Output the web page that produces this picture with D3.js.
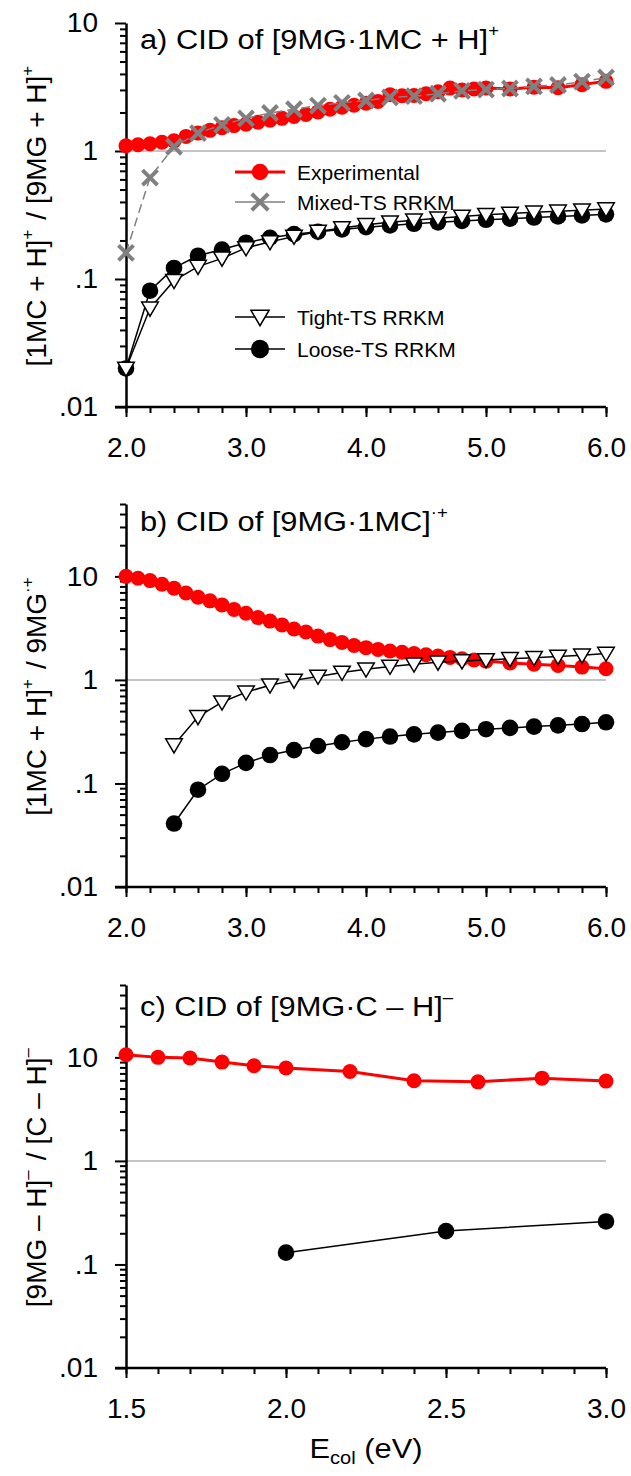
<!DOCTYPE html>
<html>
<head>
<meta charset="utf-8">
<script src="https://cdn.jsdelivr.net/npm/d3@7"></script>
<style>
  body { margin: 0; background: #fff; }
  text { font-family: "Liberation Sans", Arial, sans-serif; fill: #000; }
</style>
</head>
<body>
<script>
// ---- data ----
// panel a: CID of [9MG·1MC + H]+
const expEnergyA = [2.0, 2.1, 2.2, 2.3, 2.4, 2.5, 2.6, 2.7, 2.8, 2.9, 3.0, 3.1, 3.2, 3.3, 3.4, 3.5, 3.6, 3.7, 3.8, 3.9,
  4.0, 4.1, 4.2, 4.3, 4.4, 4.5, 4.6, 4.7, 4.8, 4.9, 5.0, 5.2, 5.4, 5.6, 5.8, 6.0];
const expRatioA = [1.10, 1.12, 1.14, 1.17, 1.20, 1.30, 1.38, 1.45, 1.52, 1.58, 1.62, 1.68, 1.74, 1.80, 1.86, 1.93, 2.02, 2.12, 2.20, 2.28,
  2.36, 2.44, 2.75, 2.70, 2.72, 2.80, 2.90, 3.10, 3.00, 3.05, 3.10, 3.05, 3.15, 3.12, 3.30, 3.50];
const modelEnergyA = [2.0, 2.2, 2.4, 2.6, 2.8, 3.0, 3.2, 3.4, 3.6, 3.8, 4.0, 4.2, 4.4, 4.6, 4.8, 5.0, 5.2, 5.4, 5.6, 5.8, 6.0];
const mixedA = [0.16, 0.62, 1.08, 1.38, 1.60, 1.80, 1.98, 2.12, 2.26, 2.38, 2.48, 2.62, 2.68, 2.80, 2.95, 3.02, 3.08, 3.20, 3.28, 3.48, 3.75];
const tightA = [0.020, 0.059, 0.097, 0.125, 0.145, 0.175, 0.195, 0.215, 0.235, 0.250, 0.265, 0.278, 0.288, 0.298, 0.308, 0.318, 0.325, 0.332, 0.338, 0.345, 0.352];
const looseA = [0.020, 0.081, 0.122, 0.152, 0.170, 0.192, 0.210, 0.224, 0.234, 0.244, 0.254, 0.262, 0.270, 0.277, 0.284, 0.290, 0.296, 0.302, 0.308, 0.314, 0.320];

// panel b: CID of [9MG·1MC]·+
const expEnergyB = expEnergyA;
const expRatioB = [10.0, 9.6, 9.1, 8.4, 7.7, 6.9, 6.3, 5.8, 5.3, 4.8, 4.4, 4.0, 3.7, 3.4, 3.1, 2.9, 2.65, 2.45, 2.3, 2.15,
  2.05, 1.97, 1.90, 1.85, 1.80, 1.75, 1.70, 1.65, 1.60, 1.56, 1.52, 1.46, 1.42, 1.38, 1.33, 1.28];
const modelEnergyB = [2.4, 2.6, 2.8, 3.0, 3.2, 3.4, 3.6, 3.8, 4.0, 4.2, 4.4, 4.6, 4.8, 5.0, 5.2, 5.4, 5.6, 5.8, 6.0];
const tightB = [0.235, 0.44, 0.61, 0.76, 0.89, 0.99, 1.08, 1.18, 1.27, 1.35, 1.42, 1.48, 1.52, 1.56, 1.60, 1.64, 1.68, 1.73, 1.80];
const looseB = [0.041, 0.087, 0.124, 0.158, 0.188, 0.210, 0.230, 0.250, 0.268, 0.284, 0.298, 0.310, 0.322, 0.334, 0.344, 0.354, 0.364, 0.375, 0.390];

// panel c: CID of [9MG·C – H]–
const expEnergyC = [1.5, 1.6, 1.7, 1.8, 1.9, 2.0, 2.2, 2.4, 2.6, 2.8, 3.0];
const expRatioC = [10.6, 10.0, 9.85, 9.0, 8.3, 7.9, 7.3, 5.95, 5.8, 6.3, 5.9];
const modelEnergyC = [2.0, 2.5, 3.0];
const looseC = [0.13, 0.21, 0.26];

// tick labels
const yTickValues = [0.01, 0.1, 1, 10];
const yTickLabels = [".01", ".1", "1", "10"];
const xMajorAB = [2, 3, 4, 5, 6];
const xMajorC = [1.5, 2.0, 2.5, 3.0];

// ---- layout ----
const width = 631, height = 1476;
const x0 = 126, x1 = 606;
const font = 28;
const stretch = 1.1; // titles in the original are set a little wide

const svg = d3.select("body").append("svg")
  .attr("width", width)
  .attr("height", height);

const panels = [
  {
    top: 23, bottom: 407, ymax: 10, xdom: [2, 6], xMajor: xMajorAB, xStep: 0.2, titleY: 49,
    title: [["a) CID of [9MG\u00b71MC + H]", false], ["+", true]],
    ylabel: [["[1MC + H]", false], ["+", true], [" / [9MG + H]", false], ["+", true]],
    series: [
      { x: expEnergyA, y: expRatioA, type: "exp" },
      { x: modelEnergyA, y: looseA, type: "loose" },
      { x: modelEnergyA, y: tightA, type: "tight" },
      { x: modelEnergyA, y: mixedA, type: "mixed" }
    ],
    xlabel: false, legend: true
  },
  {
    top: 504, bottom: 887, ymax: 50, xdom: [2, 6], xMajor: xMajorAB, xStep: 0.2, titleY: 531,
    title: [["b) CID of [9MG\u00b71MC]", false], ["\u00b7+", true]],
    ylabel: [["[1MC + H]", false], ["+", true], [" / 9MG", false], ["\u00b7+", true]],
    series: [
      { x: expEnergyB, y: expRatioB, type: "exp" },
      { x: modelEnergyB, y: looseB, type: "loose" },
      { x: modelEnergyB, y: tightB, type: "tight" }
    ],
    xlabel: false, legend: false
  },
  {
    top: 985, bottom: 1368, ymax: 50, xdom: [1.5, 3], xMajor: xMajorC, xStep: 0.1, titleY: 1016,
    title: [["c) CID of [9MG\u00b7C \u2013 H]", false], ["\u2013", true]],
    ylabel: [["[9MG \u2013 H]", false], ["\u2013", true], [" / [C \u2013 H]", false], ["\u2013", true]],
    series: [
      { x: expEnergyC, y: expRatioC, type: "exp" },
      { x: modelEnergyC, y: looseC, type: "loose" }
    ],
    xlabel: true, legend: false
  }
];

const styles = {
  exp:   { stroke: "#ff0000", width: 3, dash: null, marker: "circle", fill: "#ff0000", r: 7.5 },
  loose: { stroke: "#000", width: 1.5, dash: null, marker: "circle", fill: "#000", r: 8.3 },
  tight: { stroke: "#000", width: 1.5, dash: null, marker: "triangle", fill: "#fff", r: 8.3 },
  mixed: { stroke: "#808080", width: 1.5, dash: "9,5", marker: "cross", fill: "none", r: 7.5 }
};

function addRich(sel, parts, size) {
  parts.forEach(([t, sup]) => {
    if (sup) {
      sel.append("tspan").attr("font-size", size * 0.6).attr("dy", -size * 0.45).text(t);
      sel.append("tspan").attr("font-size", size).attr("dy", size * 0.45).text("\u200a");
    } else {
      sel.append("tspan").attr("font-size", size).text(t);
    }
  });
}

function drawMarker(g, type, cx, cy, scale = 1) {
  const s = styles[type];
  const r = s.r * scale;
  if (s.marker === "circle") {
    g.append("circle").attr("cx", cx).attr("cy", cy).attr("r", r).attr("fill", s.fill);
  } else if (s.marker === "triangle") {
    g.append("path")
      .attr("d", `M${cx - r},${cy - r * 0.75}L${cx + r},${cy - r * 0.75}L${cx},${cy + r * 0.95}Z`)
      .attr("fill", "#fff").attr("stroke", "#000").attr("stroke-width", 1.5);
  } else {
    g.append("path")
      .attr("d", `M${cx - r},${cy - r}L${cx + r},${cy + r}M${cx - r},${cy + r}L${cx + r},${cy - r}`)
      .attr("stroke", s.stroke).attr("stroke-width", 4).attr("fill", "none");
  }
}

panels.forEach(p => {
  const x = d3.scaleLinear().domain(p.xdom).range([x0, x1]);
  const y = d3.scaleLog().domain([0.01, p.ymax]).range([p.bottom, p.top]);
  const g = svg.append("g");

  // reference line at ratio 1
  g.append("line")
    .attr("x1", x0).attr("x2", x1)
    .attr("y1", y(1)).attr("y2", y(1))
    .attr("stroke", "#c4c4c4").attr("stroke-width", 2);

  // y minor ticks
  const minorY = [];
  for (let d = 0.01; d < p.ymax; d *= 10) {
    for (let k = 2; k <= 9; k++) if (d * k <= p.ymax * 1.0001) minorY.push(d * k);
  }
  g.append("g")
    .attr("transform", `translate(${x0},0)`)
    .call(d3.axisLeft(y).tickValues(minorY).tickSize(6).tickFormat("").tickSizeOuter(0))
    .call(a => a.selectAll(".tick line").attr("stroke-width", 2))
    .call(a => a.select(".domain").remove());

  // y major ticks + labels
  const yAxis = g.append("g")
    .attr("transform", `translate(${x0},0)`)
    .call(d3.axisLeft(y).tickValues(yTickValues).tickSize(11).tickPadding(17)
      .tickFormat((d, i) => yTickLabels[i]).tickSizeOuter(0));
  yAxis.selectAll(".tick line").attr("stroke-width", 2);
  yAxis.selectAll(".tick text")
    .attr("font-size", font)
    .attr("font-family", "Liberation Sans, Arial, sans-serif");
  yAxis.select(".domain").attr("stroke-width", 2.5);

  // x minor ticks
  const xMinor = d3.range(p.xdom[0], p.xdom[1] + 1e-6, p.xStep);
  g.append("g")
    .attr("transform", `translate(0,${p.bottom})`)
    .call(d3.axisBottom(x).tickValues(xMinor).tickSize(6).tickFormat("").tickSizeOuter(0))
    .call(a => a.selectAll(".tick line").attr("stroke-width", 2))
    .call(a => a.select(".domain").remove());

  const xAxis = g.append("g")
    .attr("transform", `translate(0,${p.bottom})`)
    .call(d3.axisBottom(x).tickValues(p.xMajor).tickSize(10).tickPadding(20)
      .tickFormat(d3.format(".1f")).tickSizeOuter(0));
  xAxis.selectAll(".tick line").attr("stroke-width", 2);
  xAxis.selectAll(".tick text")
    .attr("font-size", font)
    .attr("font-family", "Liberation Sans, Arial, sans-serif");
  xAxis.select(".domain").attr("stroke-width", 2.5).attr("d", `M${x0 - 11},0H${x1}`);

  // series
  p.series.forEach(s => {
    const st = styles[s.type];
    const pts = s.x.map((e, i) => [x(e), y(s.y[i])]);
    g.append("path")
      .attr("d", d3.line()(pts))
      .attr("fill", "none")
      .attr("stroke", st.stroke)
      .attr("stroke-width", st.width)
      .attr("stroke-dasharray", st.dash);
    const mg = g.append("g");
    pts.forEach(([cx, cy]) => drawMarker(mg, s.type, cx, cy));
  });

  // title
  const t = g.append("text")
    .attr("transform", `translate(140,${p.titleY}) scale(${stretch},1)`);
  addRich(t, p.title, font);

  // y label
  const yl = g.append("text")
    .attr("transform", `translate(46,${(p.top + p.bottom) / 2}) rotate(-90)`)
    .attr("text-anchor", "middle");
  addRich(yl, p.ylabel, font);

  if (p.legend) {
    const items = [
      { type: "exp", label: "Experimental", y: 172 },
      { type: "mixed", label: "Mixed-TS RRKM", y: 202 },
      { type: "tight", label: "Tight-TS RRKM", y: 317 },
      { type: "loose", label: "Loose-TS RRKM", y: 349 }
    ];
    items.forEach(it => {
      const st = styles[it.type];
      g.append("line")
        .attr("x1", 235).attr("x2", 285).attr("y1", it.y).attr("y2", it.y)
        .attr("stroke", st.stroke).attr("stroke-width", st.width);
      drawMarker(g, it.type, 260, it.y, 1.1);
      g.append("text").attr("x", 297).attr("y", it.y + 7.5)
        .attr("font-size", 21).text(it.label);
    });
  }

  if (p.xlabel) {
    const xl = g.append("text")
      .attr("transform", `translate(${(x0 + x1) / 2},1458) scale(${stretch},1)`)
      .attr("text-anchor", "middle").attr("font-size", font);
    xl.append("tspan").text("E");
    xl.append("tspan").attr("font-size", font * 0.65).attr("dy", 6).text("col");
    xl.append("tspan").attr("dy", -6).text(" (eV)");
  }
});
</script>
</body>
</html>
